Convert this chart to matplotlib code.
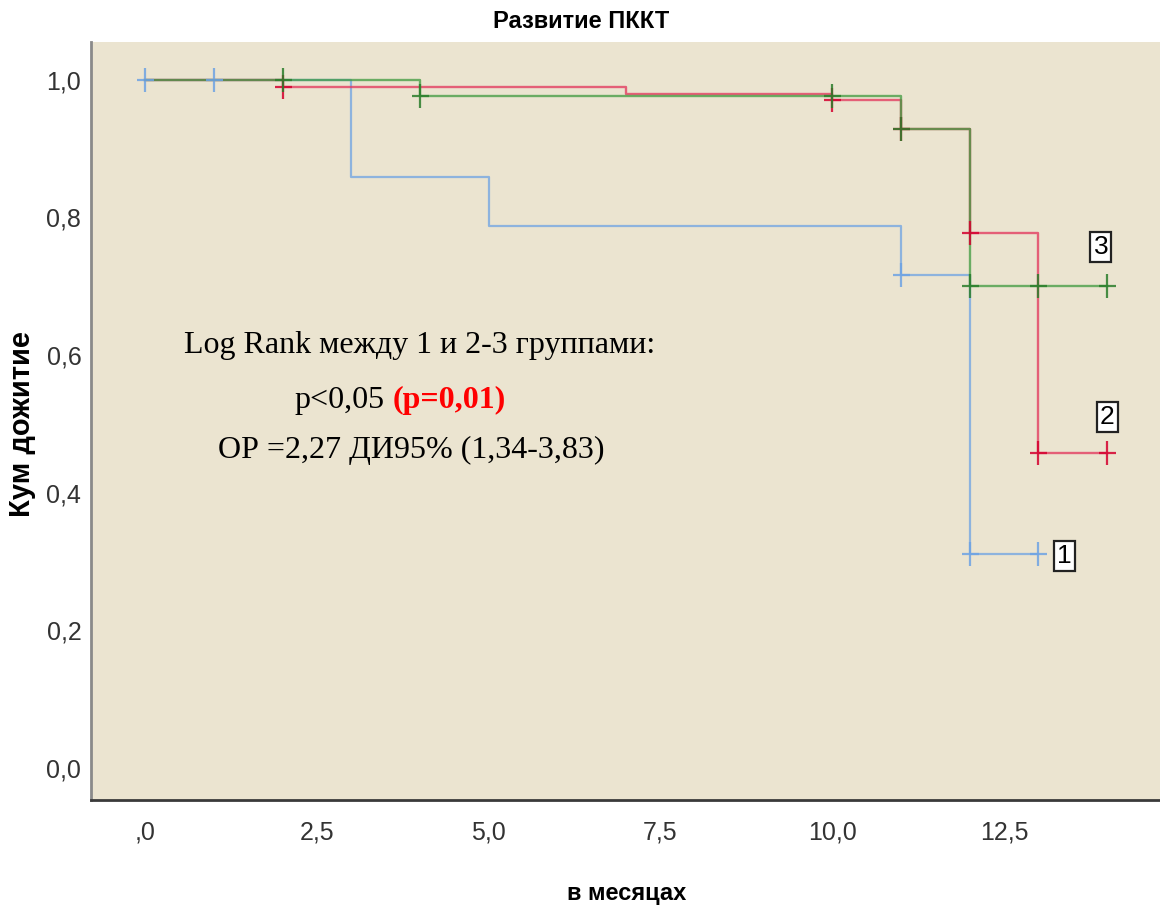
import matplotlib
matplotlib.use("Agg")
import matplotlib.pyplot as plt
from matplotlib.path import Path
from matplotlib import font_manager

names = {f.name for f in font_manager.fontManager.ttflist}
NARROW = "Liberation Sans Narrow" if "Liberation Sans Narrow" in names else "Liberation Sans"
SERIF = "Liberation Serif"

# ---- data ----
title = "Развитие ПККТ"
xlabel = "в месяцах"
ylabel = "Кум дожитие"
xticks = [0, 2.5, 5.0, 7.5, 10.0, 12.5]
xtick_labels = [",0", "2,5", "5,0", "7,5", "10,0", "12,5"]
yticks = [0.0, 0.2, 0.4, 0.6, 0.8, 1.0]
ytick_labels = ["0,0", "0,2", "0,4", "0,6", "0,8", "1,0"]

g1_t = [0, 3, 5, 11, 12, 13]
g1_s = [1.0, 0.859, 0.788, 0.717, 0.311, 0.311]
g1_ct = [0, 1, 11, 12, 13]
g1_cs = [1.0, 1.0, 0.717, 0.311, 0.311]

g2_t = [0, 2, 7, 10, 11, 12, 13, 14]
g2_s = [1.0, 0.990, 0.980, 0.971, 0.929, 0.778, 0.458, 0.458]
g2_ct = [2, 10, 11, 12, 13, 14]
g2_cs = [0.990, 0.971, 0.929, 0.778, 0.458, 0.458]

g3_t = [0, 4, 11, 12, 14]
g3_s = [1.0, 0.977, 0.929, 0.700, 0.700]
g3_ct = [2, 4, 10, 11, 12, 13, 14]
g3_cs = [1.0, 0.977, 0.977, 0.929, 0.700, 0.700, 0.700]

group_labels = ["1", "2", "3"]

# ---- figure ----
fig = plt.figure(figsize=(11.6, 9.05), dpi=100)
ax = fig.add_axes([91/1160, 1-800/905, 1069/1160, 758/905])
ax.set_facecolor("#ebe4d0")
ax.set_xlim(-0.79, 14.77)
ax.set_ylim(-0.0465, 1.055)

cross = Path([(-0.36, 0), (0.36, 0), (0, -0.5), (0, 0.5)],
             [Path.MOVETO, Path.LINETO, Path.MOVETO, Path.LINETO])

series = [
    (g1_t, g1_s, g1_ct, g1_cs, "#6ea3e3", "#6ea3e3", 1.6),
    (g2_t, g2_s, g2_ct, g2_cs, "#e2335a", "#d4002e", 1.7),
    (g3_t, g3_s, g3_ct, g3_cs, "#3f9a3f", "#2a7d2a", 1.7),
]
for t, s, ct, cs, col, ccol, lw in series:
    ax.step(t, s, where="post", color=col, lw=lw, alpha=0.75, zorder=3)
    ax.plot(ct, cs, linestyle="none", marker=cross, markersize=17,
            markeredgewidth=1.6, color=ccol, alpha=0.85, zorder=4)

# group labels
lab_pos = [(g1_ct[-1], g1_cs[-1]), (g2_ct[-1], g2_cs[-1]), (g3_ct[-1], g3_cs[-1])]
lab_off = [(0.38, -0.003), (0.0, 0.052), (-0.09, 0.057)]
for lab, (x, y), (dx, dy) in zip(group_labels, lab_pos, lab_off):
    ax.text(x + dx, y + dy, lab, ha="center", va="center", fontsize=19,
            family=NARROW, color="black", zorder=6,
            bbox=dict(boxstyle="square,pad=0.12", fc="white", ec="#222222", lw=1.6))

# annotation
def px2x(px):
    return (px - 145) / 68.7

def py2y(py):
    return 1 - (py - 80) / 688

FS = 23
ax.text(px2x(419), py2y(353), "Log Rank между 1 и 2-3 группами:", ha="center",
        va="baseline", fontsize=FS, family=SERIF, color="black", zorder=5)
ax.text(px2x(384), py2y(408), "p<0,05", ha="right", va="baseline",
        fontsize=FS, family=SERIF, color="black", zorder=5)
ax.text(px2x(392), py2y(408), "(p=0,01)", ha="left", va="baseline",
        fontsize=FS, family=SERIF, color="#ff0000", fontweight="bold", zorder=5)
ax.text(px2x(411), py2y(458), "ОР =2,27 ДИ95% (1,34-3,83)", ha="center",
        va="baseline", fontsize=FS, family=SERIF, color="black", zorder=5)

# axes styling
for side in ["top", "right"]:
    ax.spines[side].set_visible(False)
ax.spines["left"].set_color("#8a8a8a")
ax.spines["left"].set_linewidth(2)
ax.spines["bottom"].set_color("#3a3a3a")
ax.spines["bottom"].set_linewidth(2)

ax.set_xticks(xticks)
ax.set_xticklabels(xtick_labels, family=NARROW, fontsize=18, color="#333333")
ax.set_yticks(yticks)
ax.set_yticklabels(ytick_labels, family=NARROW, fontsize=18, color="#333333")
ax.tick_params(axis="both", length=0)
ax.tick_params(axis="x", pad=15)
ax.tick_params(axis="y", pad=7)

fig.text(581/1160, 1-22/905, title, ha="center", va="center", fontsize=17,
         family=NARROW, fontweight="bold")
fig.text(627/1160, 1-893/905, xlabel, ha="center", va="center", fontsize=17,
         family=NARROW, fontweight="bold")
fig.text(22/1160, 1-424/905, ylabel, ha="center", va="center", fontsize=21,
         family="Liberation Sans", fontweight="bold", rotation=90)

fig.savefig("out.png", dpi=100, facecolor="white")
